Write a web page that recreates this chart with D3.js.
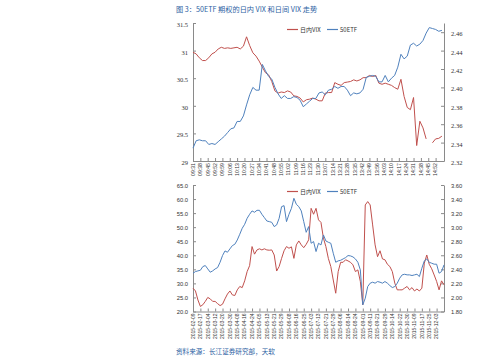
<!DOCTYPE html>
<html>
<head>
<meta charset="utf-8">
<script src="https://cdn.jsdelivr.net/npm/d3@7"></script>
<style>
  html, body { margin: 0; padding: 0; background: #fff; }
  svg { display: block; }
</style>
</head>
<body>
<svg id="chart" width="499" height="364"></svg>
<script>
// ---- data ----
// intraday panel: one value every 3 trading minutes, tick label every 7 minutes
const timeLabels = [
  '09:31', '09:38', '09:45', '09:52', '09:59', '10:06', '10:13', '10:20', '10:27',
  '10:34', '10:41', '10:48', '10:55', '11:02', '11:09', '11:16', '11:23', '11:30',
  '13:07', '13:14', '13:21', '13:28', '13:35', '13:42', '13:49', '13:56', '14:03',
  '14:10', '14:17', '14:24', '14:31', '14:38', '14:45', '14:52'
];
const intradayVix = [
  30.97, 30.94, 30.87, 30.82, 30.82, 30.87, 30.94, 30.97, 31.03, 31.06,
  31.04, 31.05, 31.04, 31.05, 31.06, 31.03, 31.08, 31.25, 31.09, 30.96,
  30.90, 30.81, 30.70, 30.60, 30.56, 30.44, 30.27, 30.23, 30.25, 30.24,
  30.27, 30.25, 30.18, 30.17, 30.14, 30.07, 30.11, 30.12, 30.14, 30.12,
  30.09, 30.09, 30.23, 30.24, 30.24, 30.42, 30.39, 30.37, 30.42, 30.43,
  30.44, 30.47, 30.45, 30.47, 30.51, 30.51, 30.55, 30.53, 30.55, 30.41,
  30.39, 30.41, 30.39, 30.37, 30.33, 30.30, 30.48, 30.17, 29.97, 29.93,
  30.15, 29.28, 29.72, 29.60, 29.40, null, 29.33, 29.40, 29.41, 29.45
];
const intradayEtf = [
  2.334, 2.342, 2.343, 2.342, 2.342, 2.338, 2.339, 2.338, 2.341, 2.344,
  2.347, 2.351, 2.355, 2.356, 2.363, 2.363, 2.369, 2.381, 2.392, 2.400,
  2.397, 2.397, 2.425, 2.418, 2.412, 2.409, 2.400, 2.393, 2.388, 2.391,
  2.388, 2.388, 2.390, 2.389, 2.386, 2.379, 2.382, 2.385, 2.388, 2.388,
  2.394, 2.395, 2.392, 2.397, 2.398, 2.401, 2.399, 2.401, 2.401, 2.397,
  2.391, 2.394, 2.393, 2.394, 2.398, 2.411, 2.412, 2.413, 2.412, 2.406,
  2.406, 2.413, 2.406, 2.410, 2.413, 2.422, 2.436, 2.431, 2.434, 2.446,
  2.448, 2.445, 2.447, 2.451, 2.459, 2.465, 2.464, 2.463, 2.461, 2.462
];

// daily panel: one value every 2 trading days, tick label every 6 trading days
const dateLabels = [
  '2015-02-09', '2015-02-17', '2015-03-04', '2015-03-12', '2015-03-20', '2015-03-30',
  '2015-04-08', '2015-04-16', '2015-04-24', '2015-05-05', '2015-05-13', '2015-05-21',
  '2015-05-29', '2015-06-08', '2015-06-16', '2015-06-25', '2015-07-03', '2015-07-13',
  '2015-07-21', '2015-07-29', '2015-08-06', '2015-08-14', '2015-08-24', '2015-09-01',
  '2015-09-11', '2015-09-21', '2015-09-29', '2015-10-14', '2015-10-22', '2015-10-30',
  '2015-11-09', '2015-11-17', '2015-11-25', '2015-12-03'
];
const dailyVix = [
  28.3, 27.3, 24.1, 21.8, 22.4, 23.6, 25.0, 24.5, 23.6, 23.6,
  22.8, 22.1, 22.6, 24.5, 26.2, 27.3, 25.9, 25.7, 27.7, 28.9,
  28.5, 30.9, 34.2, 36.3, 43.1, 40.4, 41.9, 42.3, 41.9, 42.3,
  41.9, 41.8, 41.9, 40.1, 34.4, 36.0, 38.9, 41.6, 43.1, 42.5,
  43.0, 38.9, 43.7, 45.1, 43.7, 42.7, 43.9, 45.5, 56.7, 54.6,
  56.7, 52.6, 51.7, 46.1, 43.1, 38.9, 36.0, 31.2, 26.5, 34.2,
  37.5, 37.5, 38.4, 38.0, 37.5, 36.6, 34.2, 34.8, 30.7, 22.4,
  57.9, 59.1, 57.9, 50.8, 43.7, 39.5, 41.6, 38.7, 38.4, 36.8,
  36.0, 34.2, 30.1, 27.7, 27.7, 27.7, 28.3, 28.9, 27.7, 28.5,
  27.3, 28.0, 27.3, 28.3, 37.2, 40.1, 36.8, 35.2, 33.0, 30.7,
  27.7, 30.9, 29.5
];
const dailyEtf = [
  2.345, 2.368, 2.378, 2.387, 2.439, 2.454, 2.406, 2.359, 2.378, 2.406,
  2.425, 2.501, 2.596, 2.662, 2.643, 2.691, 2.738, 2.757, 2.818, 2.899,
  2.984, 3.041, 3.126, 3.183, 3.231, 3.212, 3.240, 3.240, 3.183, 3.136,
  3.088, 3.079, 3.069, 3.008, 3.032, 3.126, 3.292, 3.306, 3.079, 3.183,
  3.268, 3.411, 3.325, 3.292, 3.231, 3.079, 2.927, 3.008, 2.771, 2.795,
  2.653, 2.771, 2.747, 2.889, 2.804, 2.785, 2.771, 2.629, 2.501, 2.520,
  2.529, 2.548, 2.567, 2.596, 2.591, 2.577, 2.548, 2.501, 2.392, 1.895,
  1.989, 2.155, 2.203, 2.217, 2.203, 2.226, 2.217, 2.203, 2.226, 2.203,
  2.169, 2.141, 2.155, 2.203, 2.274, 2.321, 2.330, 2.321, 2.321, 2.312,
  2.321, 2.330, 2.297, 2.416, 2.520, 2.548, 2.501, 2.487, 2.473, 2.473,
  2.345, 2.368, 2.463
];

const leftTicksTop = [29, 29.5, 30, 30.5, 31, 31.5];
const rightTicksTop = [2.32, 2.34, 2.36, 2.38, 2.40, 2.42, 2.44, 2.46];
const leftTicksBottom = [20, 25, 30, 35, 40, 45, 50, 55, 60, 65];
const rightTicksBottom = [1.8, 2.0, 2.2, 2.4, 2.6, 2.8, 3.0, 3.2, 3.4, 3.6];
const seriesNames = ['日内VIX', '50ETF'];

// ---- drawing ----
const RED = '#c0504d';
const BLUE = '#4f81bd';
const AXIS = '#8a8a8a';
const INK = '#333';
const X0 = 193, X1 = 444;

const svg = d3.select('#chart');
svg.append('rect').attr('width', 499).attr('height', 364).attr('fill', '#fff');

function styleAxis(g, font, size) {
  g.select('.domain').attr('stroke', AXIS);
  g.selectAll('.tick line').attr('stroke', AXIS);
  g.selectAll('text').attr('fill', INK).attr('font-family', font).attr('font-size', size);
}

function drawPanel(p) {
  const x = d3.scaleLinear().domain([0, p.count - 1]).range([X0, X1]);
  const yL = d3.scaleLinear().domain(p.leftDomain).range([p.bottom, p.top]);
  const yR = d3.scaleLinear().domain(p.rightDomain).range([p.bottom, p.top]);
  const g = svg.append('g');

  // left axis
  const gl = g.append('g').attr('transform', `translate(${X0},0)`)
    .call(d3.axisLeft(yL).tickValues(p.leftTicks).tickFormat(p.leftFormat)
      .tickSize(-3).tickSizeOuter(0).tickPadding(5));
  styleAxis(gl, p.numFont, p.numSize);
  gl.selectAll('text').attr('dy', p.labelDy);

  // right axis
  const gr = g.append('g').attr('transform', `translate(${X1},0)`)
    .call(d3.axisRight(yR).tickValues(p.rightTicks).tickFormat(d3.format('.2f'))
      .tickSize(-3).tickSizeOuter(0).tickPadding(7));
  styleAxis(gr, p.numFont, p.numSize);
  gr.selectAll('text').attr('dy', p.labelDy);

  // category axis
  const tickIdx = p.labels.map((_, k) => k * p.labelEvery);
  const gx = g.append('g').attr('transform', `translate(0,${p.bottom})`)
    .call(d3.axisBottom(x).tickValues(tickIdx).tickFormat('')
      .tickSize(-3).tickSizeOuter(0));
  styleAxis(gx, p.catFont, p.catSize);

  g.append('g').selectAll('text')
    .data(p.labels)
    .join('text')
    .attr('transform', (d, k) => `translate(${x(k * p.labelEvery) + p.catSize * 0.36},${p.bottom + 2}) rotate(-90)`)
    .attr('text-anchor', 'end')
    .attr('font-family', p.catFont)
    .attr('font-size', p.catSize)
    .attr('fill', INK)
    .text(d => d);

  // series
  const line = (y) => d3.line()
    .defined(d => d != null)
    .x((d, k) => x(k * p.step))
    .y(d => y(d));

  g.append('path').datum(p.vix)
    .attr('fill', 'none').attr('stroke', RED).attr('stroke-width', 1)
    .attr('stroke-linejoin', 'round')
    .attr('d', line(yL));
  g.append('path').datum(p.etf)
    .attr('fill', 'none').attr('stroke', BLUE).attr('stroke-width', 1)
    .attr('stroke-linejoin', 'round')
    .attr('d', line(yR));

  // legend
  const ly = p.top + 6.5;
  const legend = g.append('g');
  [[287, RED], [327, BLUE]].forEach(([lx, c], k) => {
    legend.append('line')
      .attr('x1', lx).attr('x2', lx + 11).attr('y1', ly).attr('y2', ly)
      .attr('stroke', c).attr('stroke-width', 1.2);
    legend.append('text')
      .attr('x', lx + 13).attr('y', ly).attr('dy', '0.35em')
      .attr('font-family', '"Noto Sans CJK SC", "Liberation Sans", sans-serif')
      .attr('font-size', 6).attr('fill', INK)
      .text(seriesNames[k]);
  });
}

// title
svg.append('text')
  .attr('x', 176).attr('y', 11.5)
  .attr('font-family', '"Noto Sans CJK SC", sans-serif')
  .attr('font-size', 7.2)
  .attr('fill', '#2d62a3')
  .text('图 3：50ETF 期权的日内 VIX 和日间 VIX 走势');

drawPanel({
  top: 23, bottom: 161,
  count: 240, step: 3, labelEvery: 7,
  labels: timeLabels,
  vix: intradayVix, etf: intradayEtf,
  leftDomain: [29, 31.5], rightDomain: [2.32, 2.47],
  leftTicks: leftTicksTop, rightTicks: rightTicksTop,
  leftFormat: d3.format(''),
  numFont: '"Liberation Serif", serif', numSize: 6.5, labelDy: '0.55em',
  catFont: '"Liberation Sans", sans-serif', catSize: 5.2
});

drawPanel({
  top: 185, bottom: 311.5,
  count: 205, step: 2, labelEvery: 6,
  labels: dateLabels,
  vix: dailyVix, etf: dailyEtf,
  leftDomain: [20, 65], rightDomain: [1.8, 3.6],
  leftTicks: leftTicksBottom, rightTicks: rightTicksBottom,
  leftFormat: d3.format('.1f'),
  numFont: '"Liberation Sans", sans-serif', numSize: 5.8, labelDy: '0.35em',
  catFont: '"Liberation Sans", sans-serif', catSize: 5
});

// source note
svg.append('text')
  .attr('x', 176).attr('y', 354)
  .attr('font-family', '"Noto Sans CJK SC", sans-serif')
  .attr('font-size', 6.6)
  .attr('fill', '#2d62a3')
  .text('资料来源：长江证券研究部，天软');
</script>
</body>
</html>
